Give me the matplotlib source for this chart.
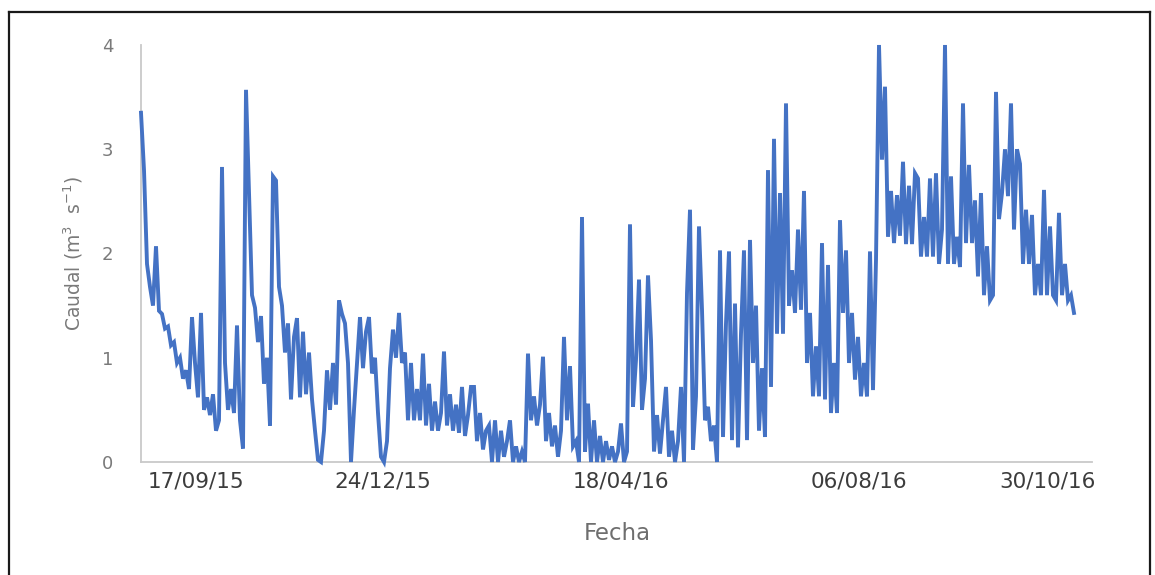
import numpy as np
import matplotlib
matplotlib.use("Agg")
import matplotlib.pyplot as plt
from matplotlib.lines import Line2D

# Caudal (m3/s), one record per sampling step
caudal = [
    3.35, 2.80, 1.90, 1.68, 1.50, 2.07, 1.45, 1.42, 1.28, 1.30,
    1.12, 1.15, 0.95, 1.00, 0.80, 0.88, 0.70, 1.39, 0.95, 0.62,
    1.43, 0.50, 0.62, 0.45, 0.65, 0.30, 0.40, 2.83, 0.95, 0.50,
    0.70, 0.47, 1.31, 0.40, 0.13, 3.57, 2.60, 1.60, 1.48, 1.15,
    1.40, 0.75, 1.00, 0.35, 2.74, 2.70, 1.68, 1.50, 1.05, 1.33,
    0.60, 1.20, 1.38, 0.62, 1.25, 0.65, 1.05, 0.60, 0.30, 0.02,
    0.00, 0.30, 0.88, 0.50, 0.95, 0.55, 1.55, 1.42, 1.33, 0.95,
    0.00, 0.50, 0.95, 1.39, 0.90, 1.25, 1.39, 0.85, 1.00, 0.47,
    0.05, 0.00, 0.20, 0.90, 1.27, 1.00, 1.43, 0.95, 1.05, 0.40,
    0.95, 0.40, 0.70, 0.40, 1.04, 0.35, 0.75, 0.30, 0.58, 0.30,
    0.47, 1.06, 0.35, 0.65, 0.30, 0.55, 0.28, 0.72, 0.25, 0.45,
    0.72, 0.72, 0.20, 0.47, 0.12, 0.30, 0.35, 0.00, 0.40, 0.00,
    0.30, 0.05, 0.20, 0.40, 0.00, 0.15, 0.00, 0.10, 0.00, 1.04,
    0.40, 0.63, 0.35, 0.55, 1.01, 0.20, 0.47, 0.15, 0.35, 0.05,
    0.30, 1.20, 0.40, 0.92, 0.15, 0.20, 0.00, 2.35, 0.10, 0.56,
    0.00, 0.40, 0.00, 0.25, 0.00, 0.20, 0.02, 0.15, 0.00, 0.10,
    0.37, 0.00, 0.10, 2.28, 0.53, 0.98, 1.75, 0.50, 0.80, 1.79,
    1.17, 0.10, 0.45, 0.08, 0.40, 0.72, 0.05, 0.30, 0.00, 0.20,
    0.72, 0.00, 1.62, 2.42, 0.12, 0.63, 2.26, 1.46, 0.40, 0.53,
    0.20, 0.35, 0.00, 2.03, 0.24, 1.33, 2.02, 0.21, 1.52, 0.14,
    1.23, 2.03, 0.21, 2.13, 0.95, 1.50, 0.30, 0.90, 0.24, 2.80,
    0.72, 3.10, 1.23, 2.58, 1.23, 3.44, 1.50, 1.84, 1.43, 2.23,
    1.46, 2.60, 0.95, 1.43, 0.63, 1.11, 0.63, 2.10, 0.60, 1.89,
    0.47, 0.95, 0.47, 2.32, 1.43, 2.03, 0.95, 1.43, 0.79, 1.20,
    0.63, 0.95, 0.63, 2.02, 0.69, 1.94, 4.00, 2.90, 3.60, 2.16,
    2.60, 2.10, 2.56, 2.17, 2.88, 2.09, 2.65, 2.09, 2.77, 2.72,
    1.97, 2.35, 1.97, 2.72, 1.97, 2.77, 1.90, 2.23, 4.00, 1.90,
    2.74, 1.90, 2.16, 1.87, 3.44, 2.10, 2.85, 2.10, 2.51, 1.78,
    2.58, 1.60, 2.07, 1.55, 1.60, 3.55, 2.33, 2.58, 3.00, 2.55,
    3.44, 2.23, 3.00, 2.86, 1.90, 2.42, 1.90, 2.37, 1.60, 1.90,
    1.60, 2.61, 1.60, 2.26, 1.60, 1.55, 2.39, 1.60, 1.90, 1.55,
    1.60, 1.43,
]

# Dates shown on the horizontal axis and the record each one falls on
fechas = ["17/09/15", "24/12/15", "18/04/16", "06/08/16", "30/10/16"]
fecha_registro = [18.3, 80.7, 160, 239.3, 302.3]

y_ticks = [0, 1, 2, 3, 4]

W, H = 1155, 575
fig = plt.figure(figsize=(W / 100, H / 100), dpi=100)
fig.patch.set_facecolor("white")

ax = fig.add_axes([141 / W, 1 - 462 / H, (1092 - 141) / W, (462 - 45) / H])
x = np.arange(len(caudal))
ax.plot(x, caudal, color="#4472C4", linewidth=2.8, solid_joinstyle="miter",
        clip_on=False, zorder=3)

ax.set_xlim(0, 317)
ax.set_ylim(0, 4)

for side in ("top", "right"):
    ax.spines[side].set_visible(False)
for side in ("left", "bottom"):
    ax.spines[side].set_color("#c9c9c9")
    ax.spines[side].set_linewidth(1.3)

ax.set_xticks(fecha_registro)
ax.set_xticklabels(fechas)
ax.set_yticks(y_ticks)
ax.set_yticklabels([str(v) for v in y_ticks])
ax.tick_params(axis="x", length=0, pad=7, labelsize=15.5, labelcolor="#3c3c3c")
ax.tick_params(axis="y", length=0, pad=20, labelsize=13, labelcolor="#7a7a7a")

fig.text(73 / W, 1 - 253 / H, "Caudal (m$^3$  s$^{-1}$)", rotation=90,
         ha="center", va="center", fontsize=13.5, color="#7a7a7a")
fig.text(617 / W, 1 - 533 / H, "Fecha", ha="center", va="center",
         fontsize=16.5, color="#6e6e6e")

# Frame around the chart
frame = dict(color="#1a1a1a", linewidth=1.6, transform=fig.transFigure)
fig.add_artist(Line2D([9 / W, 9 / W], [0, 1 - 12 / H], **frame))
fig.add_artist(Line2D([9 / W, 1150 / W], [1 - 12 / H, 1 - 12 / H], **frame))
fig.add_artist(Line2D([1150 / W, 1150 / W], [0, 1 - 12 / H], **frame))

fig.savefig("out.png", dpi=100, facecolor="white")
